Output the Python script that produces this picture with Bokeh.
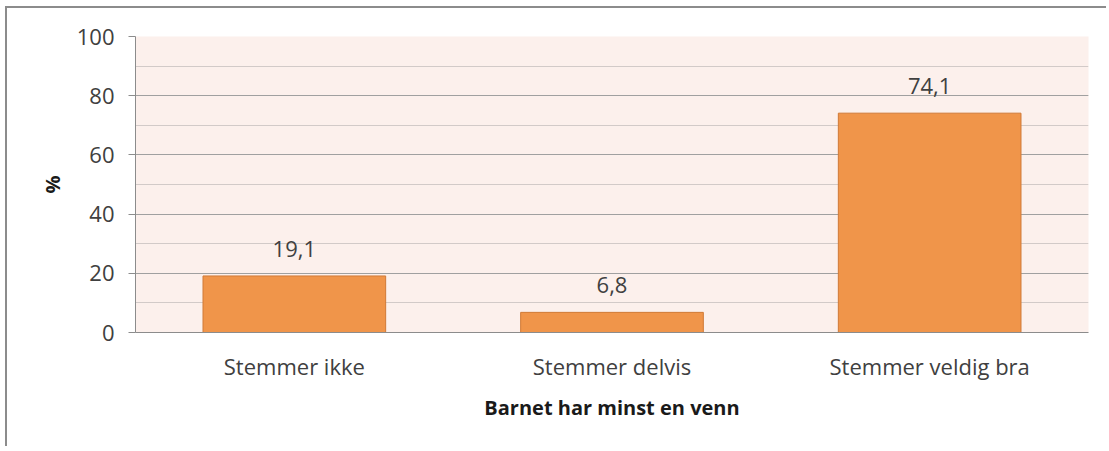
from bokeh.plotting import figure
from bokeh.models import ColumnDataSource, SingleIntervalTicker, Range1d
from bokeh.core.properties import value
from bokeh.embed import file_html
from bokeh.resources import INLINE

categories = ["Stemmer ikke", "Stemmer delvis", "Stemmer veldig bra"]
values = [19.1, 6.8, 74.1]
labels = ["19,1", "6,8", "74,1"]
x_title = "Barnet har minst en venn"
y_title = "%"

FONT = "Open Sans"
TXT = "#404040"

src = ColumnDataSource(dict(cat=categories, val=values, lab=labels))

p = figure(x_range=categories, y_range=Range1d(0, 100), width=1101, height=440,
           output_backend="svg", toolbar_location=None,
           min_border_left=128, min_border_right=20, min_border_top=28, min_border_bottom=116)
p.margin = (6, 0, 0, 5)
p.styles = {"border-left": "2px solid #8c8c8c", "border-top": "2px solid #8c8c8c"}

p.background_fill_color = "#fcf0ec"
p.border_fill_color = "white"
p.outline_line_color = None

p.vbar(x="cat", top="val", width=0.575, source=src,
       fill_color="#f0954a", line_color="#d07a36", line_width=1)

p.text(x="cat", y="val", text="lab", source=src, text_align="center",
       text_baseline="middle", y_offset=-27, text_font=value(FONT),
       text_font_size="22px", text_color=TXT)

p.yaxis.ticker = SingleIntervalTicker(interval=20, num_minor_ticks=2)
p.ygrid.grid_line_color = "#a0a0a0"
p.ygrid.minor_grid_line_color = "#d2cac8"
p.xgrid.grid_line_color = None

for ax in (p.xaxis, p.yaxis):
    ax.major_label_text_font = FONT
    ax.major_label_text_font_size = "22px"
    ax.major_label_text_color = TXT
    ax.axis_label_text_font = FONT
    ax.axis_label_text_font_style = "bold"
    ax.axis_label_text_font_size = "20px"
    ax.axis_label_text_color = "#1a1a1a"
    ax.axis_line_color = "#8c8c8c"
    ax.minor_tick_line_color = None

p.yaxis.major_tick_line_color = "#8c8c8c"
p.yaxis.major_tick_out = 7
p.yaxis.major_tick_in = 0
p.yaxis.major_label_standoff = 14
p.yaxis.axis_label = y_title
p.yaxis.axis_label_standoff = 8

p.xaxis.major_tick_line_color = None
p.xaxis.major_tick_out = 0
p.xaxis.major_tick_in = 0
p.xaxis.major_label_standoff = 18
p.xaxis.axis_label = x_title
p.xaxis.axis_label_standoff = 10

open("out.html", "w").write(file_html(p, INLINE))
